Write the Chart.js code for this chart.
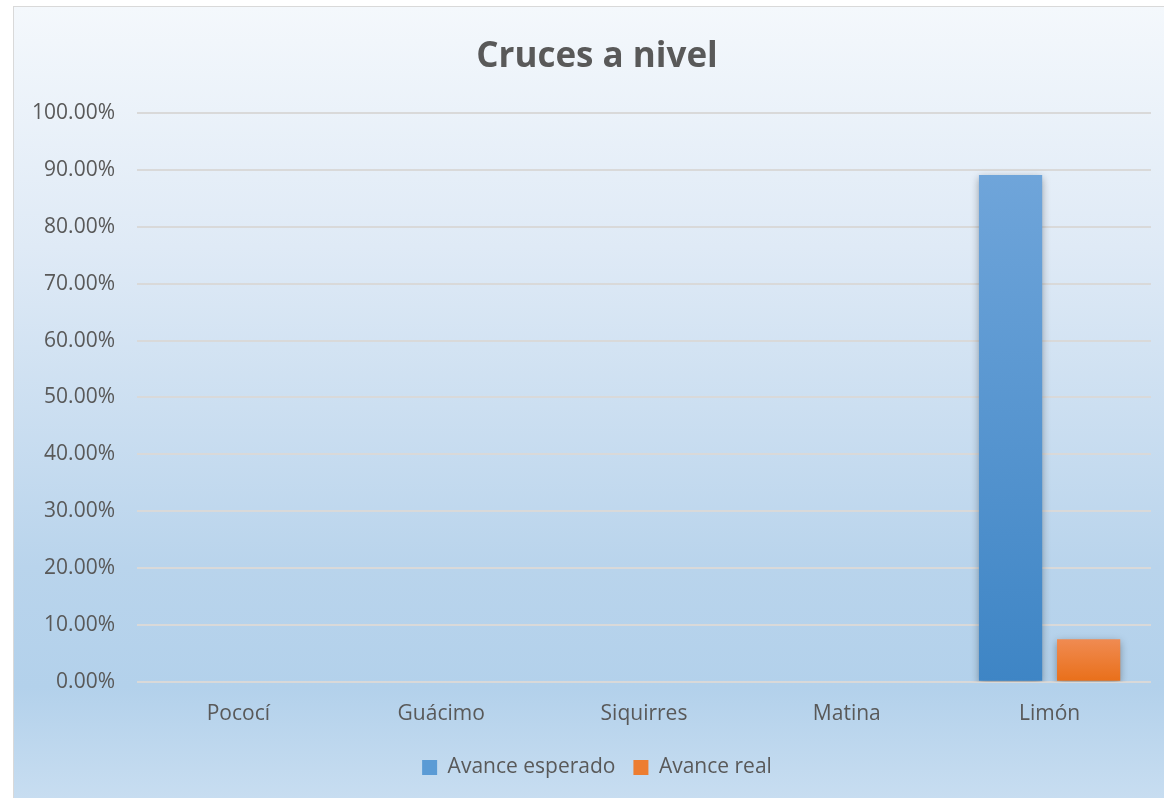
<!DOCTYPE html>
<html>
<head>
<meta charset="utf-8">
<script src="https://cdn.jsdelivr.net/npm/chart.js@4/dist/chart.umd.min.js"></script>
<style>
  html, body { margin: 0; padding: 0; background: #ffffff; width: 1164px; height: 798px; overflow: hidden; }
  #box {
    position: absolute; left: 13px; top: 6px; width: 1160px; height: 800px;
    border: 1px solid #d9d9d9;
    background: linear-gradient(to bottom, #f4f8fc 0%, #dfeaf6 30%, #b9d4ec 70%, #b3d1eb 85%, #c9def1 100%);
  }
  #wrap { position: absolute; left: 14px; top: 7px; width: 1150px; height: 791px; }
</style>
</head>
<body>
<div id="box"></div>
<div id="wrap"><canvas id="c"></canvas></div>
<script>
const categories = ["Pococí", "Guácimo", "Siquirres", "Matina", "Limón"];
const avanceEsperado = [0, 0, 0, 0, 0.891];
const avanceReal = [0, 0, 0, 0, 0.075];
const seriesNames = ["Avance esperado", "Avance real"];
const yTicks = { min: 0, max: 1, step: 0.1 };

function barGradient(top, bottom) {
  return function (ctx) {
    const chart = ctx.chart;
    if (!chart.chartArea || ctx.parsed === undefined) return top;
    const y = chart.scales.y;
    const y0 = y.getPixelForValue(ctx.parsed.y);
    const y1 = y.getPixelForValue(0);
    if (!(y1 > y0)) return top;
    const g = chart.ctx.createLinearGradient(0, y0, 0, y1);
    g.addColorStop(0, top);
    g.addColorStop(1, bottom);
    return g;
  };
}

const shadowPlugin = {
  id: 'shadow',
  beforeDatasetsDraw(chart) {
    const c = chart.ctx;
    c.save();
    c.shadowColor = 'rgba(0,0,0,0.35)';
    c.shadowBlur = 8;
    c.shadowOffsetX = 0;
    c.shadowOffsetY = 3;
  },
  afterDatasetsDraw(chart) {
    chart.ctx.restore();
  }
};

const FONT = 'Open Sans';

new Chart(document.getElementById('c'), {
  type: 'bar',
  data: {
    labels: categories,
    datasets: [
      {
        label: seriesNames[0],
        data: avanceEsperado,
        backgroundColor: barGradient('#6fa5da', '#3e85c5'),
        categoryPercentage: 0.77,
        barPercentage: 0.81
      },
      {
        label: seriesNames[1],
        data: avanceReal,
        backgroundColor: barGradient('#f08b52', '#e96f19'),
        categoryPercentage: 0.77,
        barPercentage: 0.81
      }
    ]
  },
  plugins: [shadowPlugin],
  options: {
    responsive: true,
    maintainAspectRatio: false,
    animation: false,
    layout: { padding: { left: 16, right: 0, top: 10, bottom: 10 } },
    plugins: {
      title: {
        display: true,
        text: 'Cruces a nivel',
        color: '#595959',
        font: { family: FONT, size: 35, weight: 'bold' },
        padding: { top: 19, bottom: 35 }
      },
      legend: {
        position: 'bottom',
        labels: {
          color: '#595959',
          font: { family: FONT, size: 21 },
          boxWidth: 15,
          boxHeight: 15,
          padding: 18,
          generateLabels(chart) {
            const cols = ['#5b9bd5', '#ed7d31'];
            return chart.data.datasets.map((d, i) => ({
              text: d.label,
              fillStyle: cols[i],
              strokeStyle: cols[i],
              lineWidth: 0,
              fontColor: '#595959',
              datasetIndex: i,
              hidden: false
            }));
          }
        }
      },
      tooltip: { enabled: false }
    },
    scales: {
      x: {
        grid: { display: false },
        border: { display: false },
        ticks: { color: '#595959', font: { family: FONT, size: 21 }, padding: 12 }
      },
      y: {
        min: yTicks.min,
        max: yTicks.max,
        border: { display: false },
        grid: { color: '#d9d9d9', lineWidth: 2, drawTicks: false },
        afterFit(scale) { scale.width = 107; },
        ticks: {
          stepSize: yTicks.step,
          color: '#595959',
          font: { family: FONT, size: 21 },
          padding: 22,
          callback: v => (v * 100).toFixed(2) + '%'
        }
      },
      yRight: {
        type: 'linear',
        position: 'right',
        display: true,
        grid: { display: false, drawTicks: false },
        border: { display: false },
        ticks: { display: false },
        afterFit(scale) { scale.width = 13; }
      }
    }
  }
});
</script>
</body>
</html>
